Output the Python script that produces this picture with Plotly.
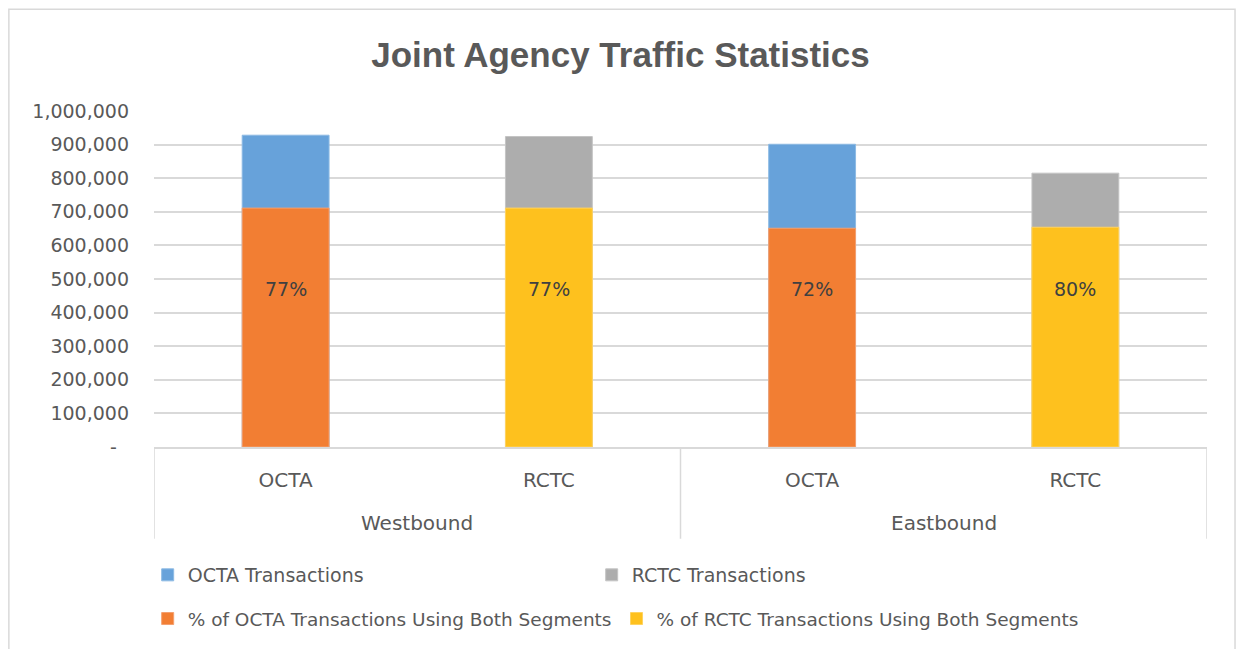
import plotly.graph_objects as go

# ---- data ----
directions = ["Westbound", "Eastbound"]
agencies = ["OCTA", "RCTC"]
octa_total = [928000, 901000]   # OCTA Transactions (Westbound, Eastbound)
rctc_total = [924000, 815000]   # RCTC Transactions
octa_both = [711000, 651000]    # OCTA transactions using both segments
rctc_both = [711000, 654000]    # RCTC transactions using both segments
y_ticks = [0, 100000, 200000, 300000, 400000, 500000, 600000, 700000, 800000, 900000, 1000000]

# category positions: (direction, agency) pairs in order
cats = [(d, a) for d in directions for a in agencies]
pos = {c: i for i, c in enumerate(cats)}
x_octa = [pos[(d, "OCTA")] for d in directions]
x_rctc = [pos[(d, "RCTC")] for d in directions]

FONT = "DejaVu Sans"
GREY = "#595959"
LINE = "#D9D9D9"
W = 0.33
FS = 19

fig = go.Figure()
fig.add_trace(go.Bar(x=x_octa, y=octa_total, name="OCTA Transactions", width=W,
                     marker=dict(color="#67A2DA", line=dict(color="#8DBAE4", width=1)),
                     legend="legend", hoverinfo="y"))
fig.add_trace(go.Bar(x=x_rctc, y=rctc_total, name="RCTC Transactions", width=W,
                     marker=dict(color="#ADADAD", line=dict(color="#C4C4C4", width=1)),
                     legend="legend", hoverinfo="y"))
fig.add_trace(go.Bar(x=x_octa, y=octa_both, name="% of OCTA Transactions Using Both Segments", width=W,
                     marker=dict(color="#F27E33", line=dict(color="#F4A070", width=1)),
                     legend="legend2", hoverinfo="y"))
fig.add_trace(go.Bar(x=x_rctc, y=rctc_both, name="% of RCTC Transactions Using Both Segments", width=W,
                     marker=dict(color="#FEC11E", line=dict(color="#FFD360", width=1)),
                     legend="legend2", hoverinfo="y"))

LABEL_Y = 470000
annotations = []
for xs, tot, both in ((x_octa, octa_total, octa_both), (x_rctc, rctc_total, rctc_both)):
    for xi, t, b in zip(xs, tot, both):
        annotations.append(dict(x=xi, y=LABEL_Y, xref="x", yref="y",
                                text=f"{round(b / t * 100)}%", showarrow=False,
                                font=dict(family=FONT, size=FS, color="#404040")))

plot_bottom = 448
plot_h = 337
def py(pix):
    return (plot_bottom - pix) / plot_h

for i, d in enumerate(directions):
    xs = [pos[c] for c in cats if c[0] == d]
    annotations.append(dict(x=sum(xs) / len(xs), y=py(524), xref="x", yref="paper",
                            text=d, showarrow=False, yanchor="middle",
                            font=dict(family=FONT, size=20, color=GREY)))

shapes = []
div_positions = [-0.5] + [max(pos[c] for c in cats if c[0] == d) + 0.5 for d in directions]
for xv in div_positions:
    shapes.append(dict(type="line", xref="x", yref="paper", x0=xv, x1=xv, y0=0, y1=py(540),
                       line=dict(color=LINE, width=1.5)))
# chart-area border
shapes.append(dict(type="rect", xref="paper", yref="paper",
                   x0=(9 - 154) / 1052, x1=(1234 - 154) / 1052, y0=py(670), y1=py(9),
                   line=dict(color=LINE, width=1.5), layer="below"))

fig.update_layout(
    width=1236, height=649,
    margin=dict(l=154, r=29, t=111, b=201),
    paper_bgcolor="white", plot_bgcolor="white",
    barmode="overlay",
    font=dict(family=FONT, size=FS, color=GREY),
    title=dict(text="Joint Agency Traffic Statistics", x=0.502, xref="container", y=1 - 55 / 649,
               yref="container", xanchor="center", yanchor="middle",
               font=dict(family="Liberation Sans", size=35, color=GREY, weight="bold")),
    xaxis=dict(range=[-0.5, len(cats) - 0.5], tickvals=list(range(len(cats))),
               ticktext=[c[1] for c in cats], showgrid=False, zeroline=False,
               showline=True, linecolor=LINE, linewidth=1.5, ticks="",
               ticklabelstandoff=14, tickfont=dict(family=FONT, size=20, color=GREY)),
    yaxis=dict(range=[0, 1000000], tickvals=y_ticks,
               ticktext=["-\u00a0\u00a0"] + [f"{v:,}" for v in y_ticks[1:]],
               showgrid=True, gridcolor=LINE, gridwidth=1.5, zeroline=False,
               showline=False, ticks="", ticklabelstandoff=24,
               tickfont=dict(family=FONT, size=FS, color=GREY)),
    legend=dict(orientation="h", x=-0.006, xanchor="left", y=py(575), yanchor="middle",
                entrywidth=399, font=dict(family=FONT, size=FS, color=GREY),
                itemclick=False, traceorder="normal"),
    legend2=dict(orientation="h", x=-0.006, xanchor="left", y=py(619), yanchor="middle",
                 font=dict(family=FONT, size=18.5, color=GREY), itemclick=False,
                 traceorder="normal"),
    annotations=annotations,
    shapes=shapes,
    showlegend=True,
)

fig.write_html("out.html")
